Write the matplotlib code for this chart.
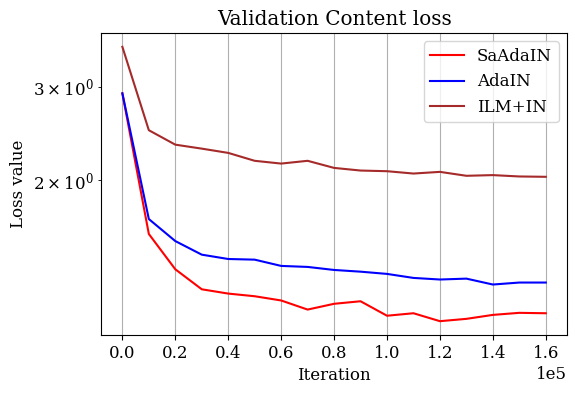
import numpy as np
import matplotlib
matplotlib.use("Agg")
import matplotlib.pyplot as plt

plt.rcParams['font.family'] = 'DejaVu Serif'
plt.rcParams['font.size'] = 12

iterations = np.arange(0, 170000, 10000)
saadain = [2.915, 1.583, 1.358, 1.245, 1.222, 1.208, 1.186, 1.140, 1.169,
           1.182, 1.110, 1.122, 1.084, 1.095, 1.114, 1.124, 1.122]
adain = [2.915, 1.689, 1.535, 1.447, 1.420, 1.416, 1.378, 1.372, 1.354,
         1.344, 1.331, 1.308, 1.299, 1.304, 1.271, 1.282, 1.282]
ilm_in = [3.568, 2.484, 2.333, 2.293, 2.251, 2.175, 2.149, 2.175, 2.109,
          2.085, 2.079, 2.058, 2.073, 2.038, 2.044, 2.032, 2.029]

fig, ax = plt.subplots(figsize=(5.75, 3.94), dpi=100)
ax.plot(iterations, saadain, color='red', label='SaAdaIN')
ax.plot(iterations, adain, color='blue', label='AdaIN')
ax.plot(iterations, ilm_in, color='brown', label='ILM+IN')
ax.set_yscale('log')
ax.ticklabel_format(axis='x', style='sci', scilimits=(0, 0))
ax.grid(axis='x')
ax.set_title('Validation Content loss')
ax.set_xlabel('Iteration')
ax.set_ylabel('Loss value')
ax.legend(loc='upper right')
plt.subplots_adjust(left=0.176, right=0.986, top=0.916, bottom=0.150)
plt.savefig('out.png')
